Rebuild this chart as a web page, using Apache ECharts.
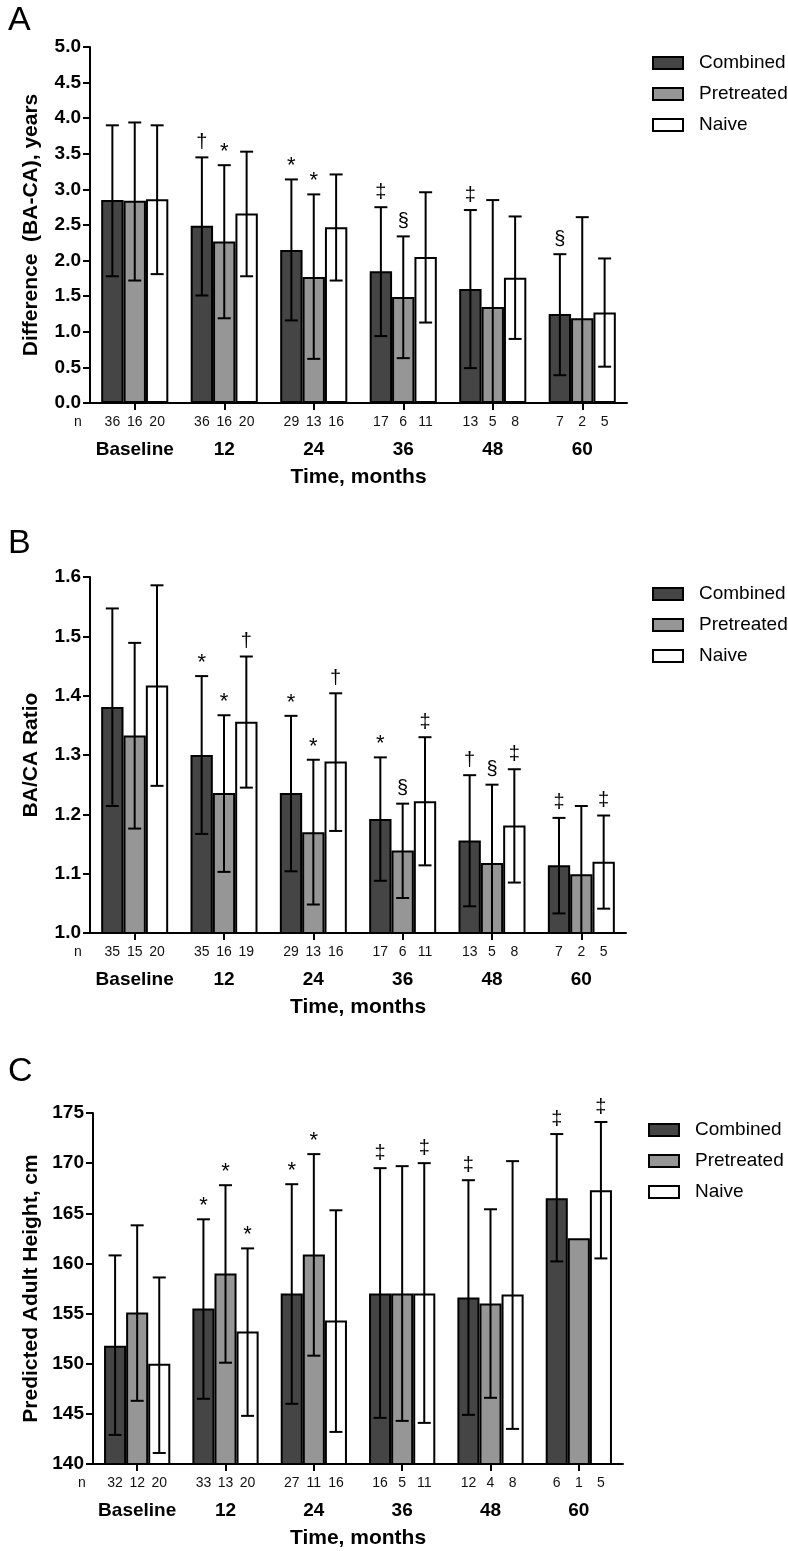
<!DOCTYPE html>
<html>
<head>
<meta charset="utf-8">
<script src="https://cdn.jsdelivr.net/npm/echarts@6/dist/echarts.min.js"></script>
<style>
html,body{margin:0;padding:0;background:#fff;}
#chart{width:788px;height:1551px;}
</style>
</head>
<body>
<div id="chart"></div>
<script>
const categories = ['Baseline', '12', '24', '36', '48', '60'];
const groups = ['Combined', 'Pretreated', 'Naive'];

// Panel A: Difference (BA-CA), years
const aCombined = [2.85, 2.49, 2.15, 1.85, 1.60, 1.25];
const aPretreated = [2.84, 2.27, 1.77, 1.49, 1.35, 1.19];
const aNaive = [2.86, 2.66, 2.47, 2.05, 1.76, 1.27];
const aCombinedHi = [3.90, 3.45, 3.14, 2.75, 2.71, 2.09];
const aPretreatedHi = [3.94, 3.34, 2.93, 2.34, 2.85, 2.61];
const aNaiveHi = [3.90, 3.53, 3.21, 2.96, 2.62, 2.03];
const aCombinedLo = [1.78, 1.51, 1.16, 0.94, 0.49, 0.39];
const aPretreatedLo = [1.72, 1.19, 0.62, 0.63, null, null];
const aNaiveLo = [1.81, 1.78, 1.72, 1.13, 0.90, 0.51];
const aCombinedN = [36, 36, 29, 17, 13, 7];
const aPretreatedN = [16, 16, 13, 6, 5, 2];
const aNaiveN = [20, 20, 16, 11, 8, 5];
const aCombinedSig = ['', '†', '*', '‡', '‡', '§'];
const aPretreatedSig = ['', '*', '*', '§', '', ''];
const aNaiveSig = ['', '', '', '', '', ''];

// Panel B: BA/CA Ratio
const bCombined = [1.381, 1.300, 1.236, 1.192, 1.156, 1.114];
const bPretreated = [1.333, 1.236, 1.170, 1.139, 1.118, 1.099];
const bNaive = [1.417, 1.356, 1.289, 1.222, 1.181, 1.120];
const bCombinedHi = [1.547, 1.433, 1.366, 1.296, 1.266, 1.194];
const bPretreatedHi = [1.489, 1.367, 1.292, 1.218, 1.250, 1.214];
const bNaiveHi = [1.586, 1.466, 1.404, 1.330, 1.276, 1.198];
const bCombinedLo = [1.214, 1.167, 1.104, 1.088, 1.045, 1.033];
const bPretreatedLo = [1.176, 1.103, 1.048, 1.059, null, null];
const bNaiveLo = [1.248, 1.245, 1.172, 1.114, 1.085, 1.041];
const bCombinedN = [35, 35, 29, 17, 13, 7];
const bPretreatedN = [15, 16, 13, 6, 5, 2];
const bNaiveN = [20, 19, 16, 11, 8, 5];
const bCombinedSig = ['', '*', '*', '*', '†', '‡'];
const bPretreatedSig = ['', '*', '*', '§', '§', ''];
const bNaiveSig = ['', '†', '†', '‡', '‡', '‡'];

// Panel C: Predicted Adult Height, cm
const cCombined = [151.8, 155.5, 157.0, 157.0, 156.6, 166.5];
const cPretreated = [155.1, 159.0, 160.9, 157.0, 156.0, 162.5];
const cNaive = [150.0, 153.2, 154.3, 157.0, 156.9, 167.3];
const cCombinedHi = [160.8, 164.4, 167.9, 169.5, 168.3, 172.9];
const cPretreatedHi = [163.8, 167.8, 170.9, 169.7, 165.4, null];
const cNaiveHi = [158.6, 161.5, 165.3, 170.0, 170.2, 174.1];
const cCombinedLo = [142.9, 146.5, 146.0, 144.6, 144.9, 160.2];
const cPretreatedLo = [146.3, 150.1, 150.8, 144.3, 146.6, null];
const cNaiveLo = [141.1, 144.8, 143.2, 144.1, 143.5, 160.5];
const cCombinedN = [32, 33, 27, 16, 12, 6];
const cPretreatedN = [12, 13, 11, 5, 4, 1];
const cNaiveN = [20, 20, 16, 11, 8, 5];
const cCombinedSig = ['', '*', '*', '‡', '‡', '‡'];
const cPretreatedSig = ['', '*', '*', '', '', ''];
const cNaiveSig = ['', '*', '', '‡', '', '‡'];

const yTicksA = {min: 0, max: 5, interval: 0.5, decimals: 1};
const yTicksB = {min: 1.0, max: 1.6, interval: 0.1, decimals: 1};
const yTicksC = {min: 140, max: 175, interval: 5, decimals: 0};

const FONT = '"Liberation Sans", Arial, Helvetica, sans-serif';
const COLORS = ['#454545', '#969696', '#ffffff'];
const BAR_FRACTION = 0.75;

const panels = [
  {
    letter: 'A', yName: 'Difference  (BA-CA), years', ticks: yTicksA,
    grid: {left: 90, top: 47, width: 537, height: 356},
    legendTop: 53, legendLeft: 652,
    means: [aCombined, aPretreated, aNaive],
    his: [aCombinedHi, aPretreatedHi, aNaiveHi],
    los: [aCombinedLo, aPretreatedLo, aNaiveLo],
    ns: [aCombinedN, aPretreatedN, aNaiveN],
    sigs: [aCombinedSig, aPretreatedSig, aNaiveSig],
    letterPos: [8, 22], nPos: [78, 422]
  },
  {
    letter: 'B', yName: 'BA/CA Ratio', ticks: yTicksB,
    grid: {left: 90, top: 577, width: 536, height: 356},
    legendTop: 584, legendLeft: 652,
    means: [bCombined, bPretreated, bNaive],
    his: [bCombinedHi, bPretreatedHi, bNaiveHi],
    los: [bCombinedLo, bPretreatedLo, bNaiveLo],
    ns: [bCombinedN, bPretreatedN, bNaiveN],
    sigs: [bCombinedSig, bPretreatedSig, bNaiveSig],
    letterPos: [8, 545], nPos: [78, 952]
  },
  {
    letter: 'C', yName: 'Predicted Adult Height, cm', ticks: yTicksC,
    grid: {left: 93, top: 1113, width: 530, height: 351},
    legendTop: 1120, legendLeft: 648,
    means: [cCombined, cPretreated, cNaive],
    his: [cCombinedHi, cPretreatedHi, cNaiveHi],
    los: [cCombinedLo, cPretreatedLo, cNaiveLo],
    ns: [cCombinedN, cPretreatedN, cNaiveN],
    sigs: [cCombinedSig, cPretreatedSig, cNaiveSig],
    letterPos: [8, 1073], nPos: [82, 1483]
  }
];

const option = {
  animation: false,
  backgroundColor: '#fff',
  grid: [], xAxis: [], yAxis: [], series: [], legend: [], graphic: []
};

panels.forEach((p, pi) => {
  option.grid.push(Object.assign({containLabel: false}, p.grid));
  option.xAxis.push({
    type: 'category', gridIndex: pi, data: categories, boundaryGap: true,
    name: 'Time, months', nameLocation: 'middle', nameGap: 64,
    nameTextStyle: {fontFamily: FONT, fontWeight: 'bold', fontSize: 21, color: '#000'},
    axisLine: {show: true, lineStyle: {color: '#000', width: 2}},
    axisTick: {show: true, alignWithLabel: true, interval: 0, length: 7, lineStyle: {color: '#000', width: 2}},
    axisLabel: {interval: 0, margin: 37, fontFamily: FONT, fontWeight: 'bold', fontSize: 19, color: '#000'},
    splitLine: {show: false}
  });
  option.yAxis.push({
    type: 'value', gridIndex: pi, min: p.ticks.min, max: p.ticks.max, interval: p.ticks.interval,
    name: p.yName, nameLocation: 'middle', nameGap: 48,
    nameTextStyle: {fontFamily: FONT, fontWeight: 'bold', fontSize: 21, color: '#000'},
    axisLine: {show: true, lineStyle: {color: '#000', width: 2}},
    axisTick: {show: true, length: 7, lineStyle: {color: '#000', width: 2}},
    axisLabel: {margin: 9, fontFamily: FONT, fontWeight: 'bold', fontSize: 19, color: '#000',
      formatter: v => v.toFixed(p.ticks.decimals)},
    splitLine: {show: false}
  });
  groups.forEach((g, k) => {
    option.series.push({
      type: 'bar', name: g, xAxisIndex: pi, yAxisIndex: pi,
      data: p.means[k],
      barGap: '0%', barCategoryGap: '25%',
      itemStyle: {color: COLORS[k], borderColor: '#000', borderWidth: 2},
      emphasis: {disabled: true}, silent: true
    });
  });
  groups.forEach((g, k) => {
    const items = [];
    categories.forEach((c, i) => {
      if (p.his[k][i] == null) return;
      const lo = p.los[k][i];
      items.push([i, lo == null ? p.ticks.min : lo, p.his[k][i], lo == null ? 0 : 1, i]);
    });
    option.series.push({
      type: 'custom', name: g + ' SD', xAxisIndex: pi, yAxisIndex: pi,
      data: items, silent: true, z: 5,
      renderItem: (params, api) => {
        const i = api.value(0);
        const lo = api.value(1), hi = api.value(2), loCap = api.value(3), idx = api.value(4);
        const bw = api.size([1, 0])[0] * BAR_FRACTION / 3;
        const top = api.coord([i, hi]);
        const bot = api.coord([i, lo]);
        const cx = top[0] + (k - 1) * bw;
        const ls = {stroke: '#000', lineWidth: 2};
        const ch = [
          {type: 'line', shape: {x1: cx, y1: top[1], x2: cx, y2: bot[1]}, style: ls},
          {type: 'line', shape: {x1: cx - 6.5, y1: top[1], x2: cx + 6.5, y2: top[1]}, style: ls}
        ];
        if (loCap) ch.push({type: 'line', shape: {x1: cx - 6.5, y1: bot[1], x2: cx + 6.5, y2: bot[1]}, style: ls});
        const s = p.sigs[k][idx];
        if (s) ch.push({type: 'text', x: cx, y: top[1] - (s === '*' ? 2 : 5),
          style: {text: s, fill: '#000', fontFamily: FONT, fontSize: s === '*' ? 22 : 20,
            align: 'center', verticalAlign: 'bottom'}});
        return {type: 'group', children: ch};
      }
    });
  });
  // n labels
  const nItems = [];
  groups.forEach((g, k) => categories.forEach((c, i) => nItems.push([i, p.ticks.min, k, p.ns[k][i]])));
  option.series.push({
    type: 'custom', name: 'n', xAxisIndex: pi, yAxisIndex: pi, data: nItems, silent: true,
    renderItem: (params, api) => {
      const i = api.value(0), k = api.value(2), n = api.value(3);
      const bw = api.size([1, 0])[0] * BAR_FRACTION / 3;
      const pt = api.coord([i, api.value(1)]);
      return {type: 'text', x: pt[0] + (k - 1) * bw, y: pt[1] + 19,
        style: {text: String(n), fill: '#111', fontFamily: FONT, fontSize: 14,
          align: 'center', verticalAlign: 'middle'}};
    }
  });
  option.legend.push({
    data: groups, orient: 'vertical', left: p.legendLeft, top: p.legendTop, padding: 0,
    itemWidth: 30, itemHeight: 12, itemGap: 11, icon: 'rect', selectedMode: false,
    itemStyle: {borderColor: '#000', borderWidth: 2},
    textStyle: {fontFamily: FONT, fontSize: 19, color: '#000', lineHeight: 20, padding: [0, 0, 0, 11]}
  });
  option.graphic.push({
    type: 'text', left: p.letterPos[0], top: p.letterPos[1] - 18,
    style: {text: p.letter, fontFamily: FONT, fontSize: 34, fill: '#000'}
  });
  option.graphic.push({
    type: 'text', x: p.nPos[0], y: p.nPos[1],
    style: {text: 'n', fontFamily: FONT, fontSize: 14, fill: '#111', align: 'center', verticalAlign: 'middle'}
  });
});

const chart = echarts.init(document.getElementById('chart'), null, {renderer: 'canvas'});
chart.setOption(option);
</script>
</body>
</html>
